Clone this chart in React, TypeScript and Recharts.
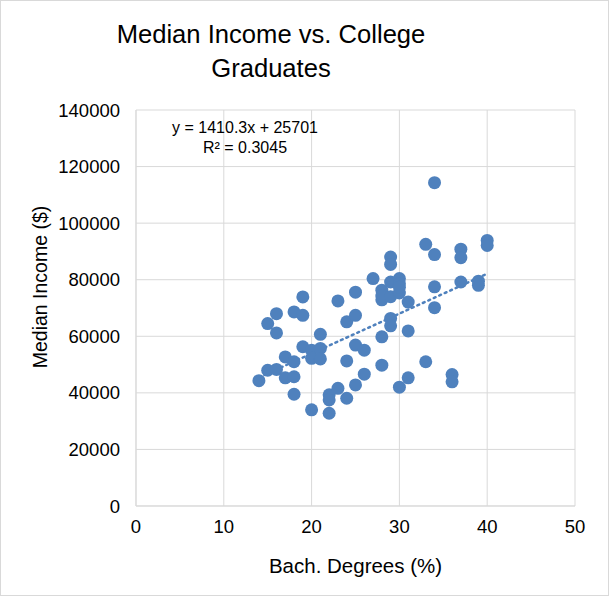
import React from "react";
import {
  ScatterChart,
  Scatter,
  XAxis,
  YAxis,
  CartesianGrid,
  ReferenceLine,
} from "recharts";

const chartTitle = ["Median Income vs. College", "Graduates"];
const xAxisTitle = "Bach. Degrees (%)";
const yAxisTitle = "Median Income ($)";

const bachDegrees: number[] = [
  14, 15, 15, 16, 16, 16, 17, 17, 18, 18, 18, 18, 19, 19, 19, 20, 20, 20, 21,
  21, 21, 22, 22, 22, 23, 23, 24, 24, 24, 25, 25, 25, 25, 26, 26, 27, 28, 28,
  28, 28, 28, 29, 29, 29, 29, 29, 29, 30, 30, 30, 30, 30, 31, 31, 31, 33, 33,
  34, 34, 34, 34, 36, 36, 37, 37, 37, 39, 39, 40, 40,
];
const medianIncome: number[] = [
  44300, 48000, 64500, 48300, 68000, 61200, 52700, 45300, 45700, 51000, 68600,
  39500, 73900, 67400, 56300, 55100, 52200, 34000, 55700, 52000, 60700, 39300,
  37500, 32800, 72500, 41600, 65100, 51300, 38100, 75600, 67400, 56900, 42800,
  55100, 46600, 80400, 76300, 72900, 59800, 49800, 74200, 88000, 85400, 79200,
  74000, 66300, 63700, 80400, 78600, 75300, 77300, 42000, 72100, 61900, 45300,
  92500, 51000, 114300, 88900, 77500, 70100, 46500, 43900, 90800, 87800, 79200,
  79500, 78000, 93900, 92100,
];

const xTicks = [0, 10, 20, 30, 40, 50];
const yTicks = [0, 20000, 40000, 60000, 80000, 100000, 120000, 140000];

const trendSlope = 1410.3;
const trendIntercept = 25701;
const trendLabel = ["y = 1410.3x + 25701", "R\u00B2 = 0.3045"];

const points = bachDegrees.map((x, i) => ({ x, y: medianIncome[i] }));
const xMin = Math.min(...bachDegrees);
const xMax = Math.max(...bachDegrees);
const trendSegment = [
  { x: xMin, y: trendSlope * xMin + trendIntercept },
  { x: xMax, y: trendSlope * xMax + trendIntercept },
];

const FONT = "'Liberation Sans', Arial, sans-serif";
const BLUE = "#4F81BD";
const GRID = "#D9D9D9";

const Dot = (props: any) => {
  const { cx, cy } = props;
  if (cx == null || cy == null) return null;
  return <circle cx={cx} cy={cy} r={6.5} fill={BLUE} />;
};

export default function App() {
  return (
    <div
      style={{
        position: "absolute",
        left: 0,
        top: 0,
        width: 609,
        height: 596,
        background: "#fff",
      }}
    >
      <ScatterChart
        width={609}
        height={596}
        margin={{ top: 110, right: 34, bottom: 30, left: 36 }}
        style={{ fontFamily: FONT }}
      >
        <CartesianGrid stroke={GRID} strokeWidth={1} />
        <XAxis
          type="number"
          dataKey="x"
          domain={[0, 50]}
          ticks={xTicks}
          interval={0}
          height={60}
          tickLine={false}
          tickSize={0}
          tickMargin={14}
          axisLine={{ stroke: GRID }}
          tick={{ fill: "#000", fontSize: 18.5, fontFamily: FONT }}
        />
        <YAxis
          type="number"
          dataKey="y"
          domain={[0, 140000]}
          ticks={yTicks}
          interval={0}
          width={100}
          tickLine={false}
          tickSize={0}
          tickMargin={16}
          axisLine={{ stroke: GRID }}
          tick={{ fill: "#000", fontSize: 18.5, fontFamily: FONT }}
        />
        <Scatter
          data={points}
          fill={BLUE}
          shape={Dot}
          isAnimationActive={false}
        />
        <ReferenceLine
          segment={trendSegment}
          stroke={BLUE}
          strokeWidth={2.5}
          strokeDasharray="2 4"
          strokeLinecap="round"
        />
        <text
          x={271}
          y={43}
          textAnchor="middle"
          fontSize={25.6}
          fontFamily={FONT}
          fill="#000"
        >
          {chartTitle[0]}
        </text>
        <text
          x={271}
          y={77}
          textAnchor="middle"
          fontSize={25.6}
          fontFamily={FONT}
          fill="#000"
        >
          {chartTitle[1]}
        </text>
        <text
          x={245}
          y={133}
          textAnchor="middle"
          fontSize={16}
          fontFamily={FONT}
          fill="#000"
        >
          {trendLabel[0]}
        </text>
        <text
          x={245}
          y={153}
          textAnchor="middle"
          fontSize={16}
          fontFamily={FONT}
          fill="#000"
        >
          {trendLabel[1]}
        </text>
        <text
          x={355.5}
          y={573}
          textAnchor="middle"
          fontSize={20.5}
          fontFamily={FONT}
          fill="#000"
        >
          {xAxisTitle}
        </text>
        <text
          x={47}
          y={287}
          textAnchor="middle"
          fontSize={19.5}
          fontFamily={FONT}
          fill="#000"
          transform="rotate(-90 47 287)"
        >
          {yAxisTitle}
        </text>
      </ScatterChart>
      <div
        style={{
          position: "absolute",
          left: 0,
          top: 0,
          width: 609,
          height: 596,
          boxSizing: "border-box",
          border: `1px solid ${GRID}`,
          pointerEvents: "none",
        }}
      />
    </div>
  );
}
